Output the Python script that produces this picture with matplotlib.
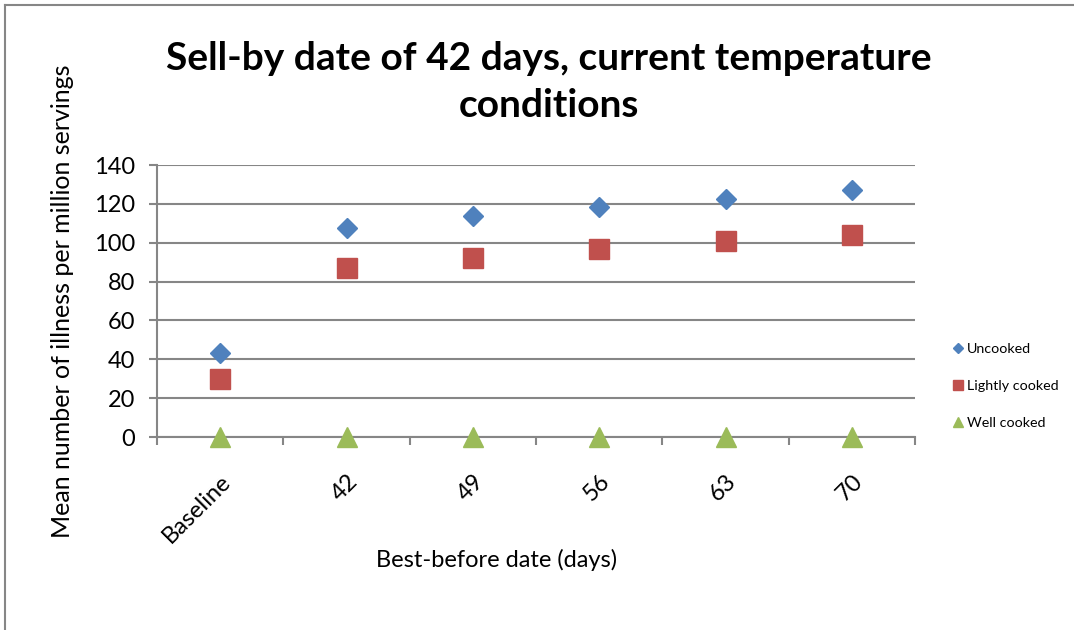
import matplotlib.pyplot as plt
from matplotlib.lines import Line2D
import numpy as np

plt.rcParams['font.family'] = ['Lato', 'DejaVu Sans']

# Data
categories = ['Baseline', '42', '49', '56', '63', '70']
uncooked = [43.5, 107.5, 113.7, 118.4, 122.4, 127.0]
lightly_cooked = [30.0, 87.0, 92.2, 96.8, 100.8, 104.2]
well_cooked = [0, 0, 0, 0, 0, 0]

blue = '#4F81BD'
red = '#C0504D'
green = '#9BBB59'
grey = '#868686'

fig = plt.figure(figsize=(10.74, 6.30), dpi=100)
ax = fig.add_axes([0.1462, 0.3063, 0.7058, 0.4317])

x = np.arange(len(categories))
ax.plot(x, uncooked, 'D', color=blue, markersize=10.2, clip_on=False)
ax.plot(x, lightly_cooked, 's', color=red, markersize=14.5, clip_on=False)
ax.plot(x, well_cooked, '^', color=green, markersize=15, clip_on=False, zorder=5)

ax.set_xlim(-0.5, len(categories) - 0.5)
ax.set_ylim(0, 140)
ax.set_yticks(range(0, 141, 20))
ax.yaxis.grid(True, color=grey, linewidth=1.5)
ax.set_axisbelow(True)

# tick marks on category boundaries, labels at centres
ax.set_xticks(np.arange(-0.5, len(categories), 1.0))
ax.set_xticklabels([])
ax.set_xticks(x, minor=True)
ax.set_xticklabels(categories, minor=True, rotation=45, ha='right', va='top',
                   rotation_mode='anchor', fontsize=17)
ax.tick_params(axis='x', which='minor', length=0, pad=24)
ax.tick_params(axis='x', which='major', length=6, color=grey, width=1.5)
ax.tick_params(axis='y', length=6, color=grey, width=1.5, labelsize=17, pad=10)

for side in ['top', 'right']:
    ax.spines[side].set_visible(False)
for side in ['left', 'bottom']:
    ax.spines[side].set_color(grey)
    ax.spines[side].set_linewidth(1.5)

ax.set_ylabel('Mean number of illness per million servings', fontsize=18)
ax.yaxis.set_label_coords(-0.11, 0.50)
fig.text(497 / 1074, 1 - 560 / 630, 'Best-before date (days)', ha='center', va='center',
         fontsize=17)
fig.text(0.511, 0.87, 'Sell-by date of 42 days, current temperature\nconditions',
         ha='center', va='center', fontsize=28, fontweight='bold', linespacing=1.4)

handles = [
    Line2D([], [], marker='D', color=blue, linestyle='none', markersize=5.5),
    Line2D([], [], marker='s', color=red, linestyle='none', markersize=6.5),
    Line2D([], [], marker='^', color=green, linestyle='none', markersize=7),
]
fig.legend(handles, ['Uncooked', 'Lightly cooked', 'Well cooked'],
           loc='center left', bbox_to_anchor=(0.875, 0.387), frameon=False,
           fontsize=10.3, handlelength=0.8, handletextpad=0.2, labelspacing=1.75)

# chart border (top and left edges visible)
fig.add_artist(Line2D([0.005, 1.0], [0.992, 0.992], color=grey, linewidth=1.5))
fig.add_artist(Line2D([0.005, 0.005], [0.0, 0.992], color=grey, linewidth=1.5))

fig.savefig('out.png', dpi=100)
